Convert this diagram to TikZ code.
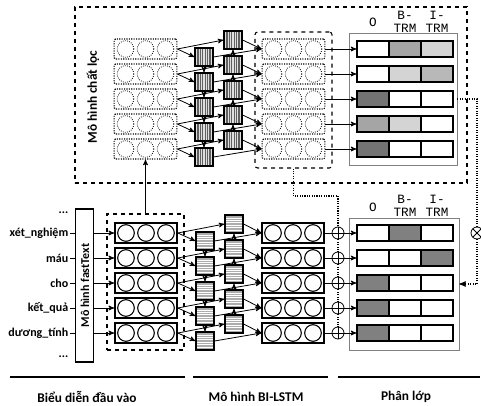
\documentclass[tikz,border=0pt]{standalone}
\usepackage{fontspec}
\setsansfont{Carlito}
\setmonofont{Liberation Mono}
\usepackage{tikz}
\usetikzlibrary{shapes, arrows, positioning, calc}

\definecolor{darkcell}{HTML}{737373}
\definecolor{midcell}{HTML}{A5A5A5}
\definecolor{softcell}{HTML}{B8B8B8}
\definecolor{lightcell}{HTML}{D4D4D4}
\definecolor{tagcell}{HTML}{808080}

\begin{document}
\begin{tikzpicture}[x=0.75pt, y=-0.75pt, >=stealth', semithick,
  dashframe/.style={draw, dashed, thick, inner sep=0pt},
  dotbox/.style={draw, densely dotted, thick, rounded corners=1pt, minimum width=47pt, minimum height=15pt, inner sep=0pt},
  dotcirc/.style={draw, densely dotted, circle, minimum size=12.5pt, inner sep=0pt},
  embbox/.style={draw, very thick, minimum width=46.5pt, minimum height=15pt, inner sep=0pt},
  embcirc/.style={draw, thick, circle, minimum size=12.5pt, inner sep=0pt},
  cellv/.style={draw, thick, fill=gray!25, minimum size=13.5pt, inner sep=0pt, path picture={
      \foreach \k in {-4.5,-2.7,...,4.6} \draw[gray!75!black, line width=0.9pt] ([xshift=\k pt]path picture bounding box.north) -- ([xshift=\k pt]path picture bounding box.south);}},
  cellh/.style={draw, thick, fill=gray!65, minimum size=13.5pt, inner sep=0pt, path picture={
      \foreach \k in {-4.5,-2.7,...,4.6} \draw[white, line width=0.7pt] ([yshift=\k pt]path picture bounding box.west) -- ([yshift=\k pt]path picture bounding box.east);}},
  tagbox/.style={draw, thick, minimum width=24pt, minimum height=12pt, inner sep=0pt},
  clsbox/.style={draw=gray, minimum width=81pt, minimum height=99pt, inner sep=0pt},
  sumnode/.style={draw, circle, fill=white, minimum size=9pt, inner sep=0pt, path picture={
      \draw (path picture bounding box.north) -- (path picture bounding box.south)
            (path picture bounding box.west) -- (path picture bounding box.east);}},
  mulnode/.style={draw, circle, fill=white, minimum size=9pt, inner sep=0pt, path picture={
      \draw (path picture bounding box.north west) -- (path picture bounding box.south east)
            (path picture bounding box.south west) -- (path picture bounding box.north east);}},
  word/.style={font=\sffamily\bfseries\small, anchor=east, inner sep=1pt},
  hdr/.style={font=\ttfamily\fontsize{9.5}{10}\selectfont, align=center, inner sep=0pt},
  parttitle/.style={font=\sffamily\bfseries}
]
  \useasboundingbox (0,0) rectangle (481,406);

  % Filter model
  \node[dashframe, minimum width=294pt, minimum height=132pt] (filter) at (271,95) {};
  \node[parttitle, rotate=90] (filtername) at (93,97) {Mô hình chất lọc};
  \node[dashframe, rounded corners=2pt, minimum width=57.75pt, minimum height=102pt] (tout) at (293.5,100) {};
  \node[clsbox] (tcls) at (403,99) {};
  \node[hdr] (tho) at (373,22) {O};
  \node[hdr] (thb) at (405,21.5) {B-\\TRM};
  \node[hdr] (thi) at (437,21.5) {I-\\TRM};

  \foreach \i/\ca/\cb/\cc in {1/white/midcell/lightcell, 2/white/lightcell/softcell,
      3/darkcell/white/white, 4/midcell/lightcell/white, 5/darkcell/white/white} {
    \pgfmathsetmacro{\yy}{24+25*\i}
    \node[dotbox] (ti\i) at (145.5,\yy) {};
    \node[dotbox] (to\i) at (293.5,\yy) {};
    \foreach \j in {1,2,3} {
      \node[dotcirc] (tic\i\j) at (105.5+20*\j,\yy) {};
      \node[dotcirc] (toc\i\j) at (253.5+20*\j,\yy) {};
    }
    \node[cellv] (tf\i) at (204,\yy+8) {};
    \node[cellv] (tb\i) at (233,\yy-9) {};
    \node[tagbox, fill=\ca] (tt\i1) at (373,\yy) {};
    \node[tagbox, fill=\cb] (tt\i2) at (405,\yy) {};
    \node[tagbox, fill=\cc] (tt\i3) at (437,\yy) {};
    \draw[->] (ti\i.east) -- (tf\i.west);
    \draw[->] (ti\i.east) -- (tb\i.west);
    \draw[->] (tf\i.east) -- (to\i.west);
    \draw[->] (tb\i.east) -- (to\i.west);
    \draw[->] (to\i.east) -- (tt\i1.west);
  }
  \foreach \i/\n in {1/2,2/3,3/4,4/5} {
    \draw[->] (tf\i) -- (tf\n);
    \draw[->] (tb\n) -- (tb\i);
  }

  % Input representation
  \node[word] (dtop) at (70,213) {...};
  \node[word] (dbot) at (70,357) {...};
  \node[draw, thick, minimum width=13.5pt, minimum height=114.75pt] (ft) at (84.5,285.5) {};
  \node[parttitle, font=\sffamily\bfseries\small, rotate=90] (ftname) at (85,285.5) {Mô hình fastText};
  \node[dashframe, minimum width=57.75pt, minimum height=102pt] (emb) at (145.5,282) {};
  \draw[->] (emb.north) -- (ti5.south);

  % BI-LSTM and tagging
  \node[clsbox, minimum width=82.5pt] (bcls) at (404,284) {};
  \node[hdr] (bho) at (373,207) {O};
  \node[hdr] (bhb) at (405,206) {B-\\TRM};
  \node[hdr] (bhi) at (437,206) {I-\\TRM};

  \foreach \i/\w/\ca/\cb/\cc in {1/xét\_nghiệm/white/tagcell/white, 2/máu/white/white/tagcell,
      3/cho/tagcell/white/white, 4/kết\_quả/tagcell/white/white, 5/dương\_tính/tagcell/white/white} {
    \pgfmathsetmacro{\yy}{208+25*\i}
    \node[word] (w\i) at (70,\yy) {\w};
    \node[embbox] (be\i) at (146,\yy) {};
    \node[embbox] (bo\i) at (293,\yy) {};
    \foreach \j in {1,2,3} {
      \node[embcirc] (bec\i\j) at (106+20*\j,\yy) {};
      \node[embcirc] (boc\i\j) at (253+20*\j,\yy) {};
    }
    \node[cellh] (bf\i) at (205,\yy+8) {};
    \node[cellh] (bb\i) at (234,\yy-9) {};
    \node[sumnode] (bs\i) at (338,\yy) {};
    \node[tagbox, fill=\ca] (bt\i1) at (373,\yy) {};
    \node[tagbox, fill=\cb] (bt\i2) at (405,\yy) {};
    \node[tagbox, fill=\cc] (bt\i3) at (437,\yy) {};
    \draw (w\i.east) -- (w\i.east -| ft.west);
    \draw[->] (be\i.west -| ft.east) -- (be\i.west);
    \draw[->] (be\i.east) -- (bf\i.west);
    \draw[->] (be\i.east) -- (bb\i.west);
    \draw[->] (bf\i.east) -- (bo\i.west);
    \draw[->] (bb\i.east) -- (bo\i.west);
    \draw (bo\i) -- (bs\i);
    \draw[->] (bs\i) -- (bt\i1);
  }
  \foreach \i/\n in {1/2,2/3,3/4,4/5} {
    \draw[->] (bf\i) -- (bf\n);
    \draw[->] (bb\n) -- (bb\i);
    \draw[densely dotted, thick] (bs\i) -- (bs\n);
  }

  % Dotted feedback
  \coordinate (gate) at (338,196);
  \draw[densely dotted, thick] (tout.south) |- (gate) -- (bs1.north);
  \node[mulnode] (mul) at (477,233) {};
  \draw[densely dotted, thick] (tcls.east) -| (mul.north);
  \draw[densely dotted, thick, ->] (mul.south) |- (bcls.east);

  % Parts
  \draw[very thick] (10,377) -- (185,377);
  \draw[very thick] (193,377) -- (328,377);
  \draw[very thick] (338,377) -- (480,377);
  \node[parttitle] (part1) at (87,397) {Biểu diễn đầu vào};
  \node[parttitle] (part2) at (256,397) {Mô hình BI-LSTM};
  \node[parttitle] (part3) at (406,397) {Phân lớp};
\end{tikzpicture}
\end{document}
